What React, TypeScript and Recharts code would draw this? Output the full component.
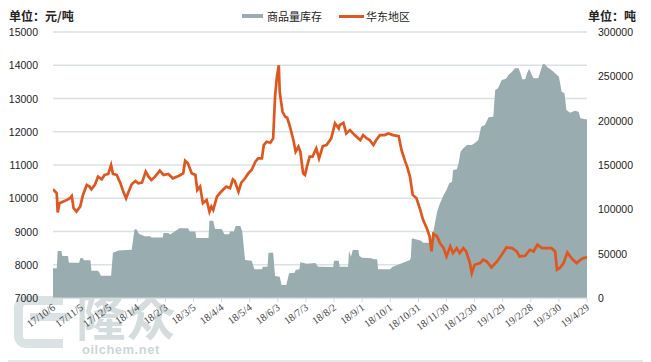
import React from 'react';
import { ComposedChart, Area, Line, XAxis, YAxis, CartesianGrid, Legend } from 'recharts';

// x axis: days since 17/10/6, one label every 30 days
const xLabels = ['17/10/6','17/11/5','17/12/5','18/1/4','18/2/3','18/3/5','18/4/4','18/5/4','18/6/3','18/7/3','18/8/2','18/9/1','18/10/1','18/10/31','18/11/30','18/12/30','19/1/29','19/2/28','19/3/30','19/4/29'];
const xTickDays = [0,30,60,90,120,150,180,210,240,270,300,330,360,390,420,450,480,510,540,570];

const leftTicks = [7000, 8000, 9000, 10000, 11000, 12000, 13000, 14000, 15000];
const rightTicks = [0, 50000, 100000, 150000, 200000, 250000, 300000];

// 华东地区 price (元/吨): [day, value]
const priceSeries: [number, number][] = [
  [0,10270],[4,10150],[5,9570],[7,9850],[11,9900],[15,9950],[18,10000],[20,10070],[22,9700],[25,9600],
  [29,9750],[32,10100],[36,10400],[39,10350],[41,10270],[45,10420],[48,10650],[52,10570],[55,10700],[59,10730],
  [62,11000],[64,10730],[68,10700],[72,10450],[75,10200],[78,10000],[80,10150],[84,10420],[88,10520],[91,10450],
  [95,10470],[99,10800],[102,10650],[105,10550],[109,10650],[114,10830],[118,10700],[123,10730],[128,10600],[134,10670],
  [139,10750],[141,11130],[144,11050],[148,10750],[152,10700],[154,10250],[157,10350],[160,9850],[164,9950],[167,9600],
  [169,9750],[171,9650],[175,10050],[178,10150],[182,10270],[185,10350],[189,10300],[192,10570],[194,10520],[198,10200],
  [201,10470],[205,10600],[209,10770],[212,10850],[216,11100],[219,11200],[223,11200],[225,11600],[228,11700],[232,11670],
  [235,11800],[237,13050],[239,13650],[241,14000],[242,13200],[245,12600],[248,12450],[250,12420],[253,12150],[257,11700],
  [259,11400],[262,11550],[264,11400],[267,10750],[269,10700],[271,10950],[274,11250],[277,11250],[281,11500],[284,11200],
  [288,11570],[292,11600],[297,11800],[301,12250],[305,12100],[306,12200],[310,12270],[313,11950],[317,12050],[322,11900],
  [328,11750],[331,11900],[335,11800],[338,11750],[342,11600],[345,11750],[349,11900],[354,11900],[358,11950],[363,11900],
  [369,11870],[372,11450],[376,11100],[378,10950],[381,10650],[384,10100],[388,10000],[392,9650],[395,9350],[399,9100],
  [402,8850],[404,8400],[406,8930],[410,8850],[413,8650],[417,8500],[420,8250],[424,8550],[427,8350],[431,8500],
  [434,8350],[438,8500],[441,8400],[445,8050],[447,7750],[450,8000],[456,8050],[459,8150],[463,8100],[468,7920],
  [474,8100],[479,8300],[484,8520],[490,8500],[495,8400],[498,8250],[504,8270],[509,8450],[513,8400],[517,8600],
  [522,8500],[527,8500],[532,8500],[536,8400],[538,7850],[541,7900],[545,8050],[549,8370],[552,8250],[555,8150],
  [559,8050],[563,8150],[566,8200],[570,8220],
];

// 商品量库存 (吨): [day, value]
const stockSeries: [number, number][] = [
  [0,33500],[4,33500],[5,53000],[9,53000],[10,47400],[16,47400],[17,39800],[28,39800],[29,44700],[32,44700],
  [33,42600],[40,42600],[41,30800],[48,30800],[50,28000],[51,25200],[62,25200],[64,51100],[70,53500],[84,54500],
  [87,77500],[89,77500],[92,72200],[98,69600],[104,69600],[105,68200],[117,68200],[118,73300],[123,73300],[125,71600],
  [135,78600],[144,78600],[146,75000],[152,75000],[153,67800],[166,67800],[167,87200],[171,87200],[173,77700],[180,77700],
  [183,72000],[188,72000],[189,75000],[193,75000],[195,81200],[200,81200],[202,75000],[205,42900],[212,42100],[215,32300],
  [223,32300],[224,35300],[229,35300],[230,51100],[235,51100],[237,24800],[242,24000],[244,14700],[249,14700],[252,28000],
  [258,28500],[259,31600],[263,32300],[264,40300],[271,38700],[280,39500],[283,35300],[299,35000],[300,42100],[305,42100],
  [306,35300],[315,35300],[316,53400],[318,46600],[320,54100],[326,54100],[327,47400],[330,45500],[340,44700],[342,43600],
  [346,43600],[347,32300],[360,32300],[362,35000],[371,38700],[381,42900],[382,46000],[383,67300],[393,64700],[395,62400],
  [404,62400],[406,75000],[408,86100],[410,97400],[413,106700],[417,116200],[420,121800],[423,129300],[426,131200],[427,144400],
  [431,145100],[433,151900],[435,165000],[438,168800],[442,172500],[447,172500],[450,174400],[454,178200],[457,193200],[461,195100],
  [465,203800],[470,204500],[472,234600],[475,236500],[479,245900],[482,246600],[484,247700],[486,251500],[490,255300],[493,259000],
  [497,259000],[499,253400],[501,246600],[504,246600],[506,253400],[508,257900],[509,257100],[511,251500],[513,247700],[518,247700],
  [521,257900],[523,263900],[525,263500],[528,260100],[532,257100],[536,253400],[540,249600],[543,232700],[546,230800],[548,212000],
  [552,209000],[557,211300],[561,210100],[563,202600],[568,201500],[570,201500],
];

const priceData = priceSeries.map(([d, v]) => ({ d, price: v }));
const stockData = stockSeries.map(([d, v]) => ({ d, stock: v }));

const LINE_COLOR = '#e0561f';
const AREA_COLOR = '#99acb0';
const SANS = '"Liberation Sans", Arial, sans-serif';
const CJK = '"Noto Sans CJK SC", "Noto Sans", sans-serif';

const LeftTick = (props: any) => (
  <text x={38} y={props.y} dy={4} textAnchor="end" fontSize={10.5} fill="#222" fontFamily={SANS}>
    {props.payload.value}
  </text>
);

const RightTick = (props: any) => (
  <text x={598} y={props.y} dy={4} textAnchor="start" fontSize={10.5} fill="#222" fontFamily={SANS}>
    {props.payload.value}
  </text>
);

const BottomTick = (props: any) => {
  const idx = xTickDays.indexOf(props.payload.value);
  const tx = props.x + 3;
  const ty = props.y + 5;
  return (
    <text x={tx} y={ty} textAnchor="end" transform={`rotate(-36 ${tx} ${ty})`} fontSize={10.5} fill="#444"
      fontFamily='"Liberation Serif", "Times New Roman", serif'>
      {idx >= 0 ? xLabels[idx] : ''}
    </text>
  );
};

const LegendContent = () => (
  <div style={{ position: 'relative', width: 651, height: 24, fontFamily: CJK, color: '#222' }}>
    <span style={{ position: 'absolute', left: 9, top: -1, fontSize: 12, fontWeight: 700, whiteSpace: 'nowrap' }}>单位：元/吨</span>
    <span style={{ position: 'absolute', left: 588, top: -1, fontSize: 12, fontWeight: 700, whiteSpace: 'nowrap' }}>单位：吨</span>
    <div style={{ position: 'absolute', left: 242, top: 0, display: 'flex', alignItems: 'center', fontSize: 11, whiteSpace: 'nowrap' }}>
      <span style={{ display: 'inline-block', width: 21, height: 4, background: AREA_COLOR, marginRight: 4 }} />
      <span>商品量库存</span>
      <span style={{ display: 'inline-block', width: 25, height: 3, background: LINE_COLOR, marginLeft: 17, marginRight: 2 }} />
      <span>华东地区</span>
    </div>
  </div>
);

export default function App() {
  return (
    <div style={{ position: 'relative', width: 651, height: 362, marginLeft: -8, marginTop: -8, background: '#fff', overflow: 'hidden' }}>
      {/* watermark */}
      <div style={{ position: 'absolute', left: 0, top: 0, width: 651, height: 362, pointerEvents: 'none' }}>
        <div style={{ position: 'absolute', left: 14, top: 296, width: 40, height: 34, border: '9px solid rgba(175,190,195,0.45)', borderRight: 'none', borderRadius: '12px 0 0 12px' }} />
        <div style={{ position: 'absolute', left: 30, top: 313, width: 40, height: 8, background: 'rgba(175,190,195,0.45)' }} />
        <div style={{ position: 'absolute', left: 76, top: 288, fontSize: 50, fontWeight: 700, fontFamily: CJK, color: 'rgba(170,185,190,0.5)', letterSpacing: 0, lineHeight: '52px', height: 52 }}>隆众</div>
        <div style={{ position: 'absolute', left: 82, top: 342, fontSize: 13, fontWeight: 700, fontFamily: SANS, color: 'rgba(170,185,190,0.6)', letterSpacing: 0.5, lineHeight: '15px' }}>oilchem.net</div>
      </div>
      <div style={{ position: 'absolute', left: 0, top: 0 }}>
        <ComposedChart width={651} height={362} margin={{ top: 8, right: 0, bottom: 14, left: 0 }}>
          <Legend verticalAlign="top" align="left" content={LegendContent as any} wrapperStyle={{ left: 0, top: 8, width: 651, height: 24 }} />
          <CartesianGrid yAxisId="left" horizontal vertical={false} stroke="#dae1e4" strokeWidth={1.5} />
          <XAxis xAxisId={0} type="number" dataKey="d" domain={[0, 570]} ticks={xTickDays} interval={0}
            allowDataOverflow height={50} tick={BottomTick} tickSize={4} tickLine={{ stroke: '#d4d9db' }}
            axisLine={{ stroke: '#d4d9db' }} />
          <YAxis yAxisId="left" orientation="left" domain={[7000, 15000]} ticks={leftTicks} width={53}
            tick={LeftTick} tickLine={false} axisLine={false} allowDataOverflow />
          <YAxis yAxisId="right" orientation="right" domain={[0, 300000]} ticks={rightTicks} width={64}
            tick={RightTick} tickLine={false} axisLine={false} allowDataOverflow />
          <Area yAxisId="right" data={stockData} dataKey="stock" name="商品量库存" type="linear"
            fill={AREA_COLOR} fillOpacity={1} stroke="none" isAnimationActive={false} />
          <Line yAxisId="left" data={priceData} dataKey="price" name="华东地区" type="linear"
            stroke={LINE_COLOR} strokeWidth={2.7} dot={false} activeDot={false} isAnimationActive={false} />
        </ComposedChart>
      </div>
      <div style={{ position: 'absolute', left: 0, top: 0, width: 651, height: 362, boxSizing: 'border-box', border: '2px solid #e3e9eb', pointerEvents: 'none' }} />
    </div>
  );
}
